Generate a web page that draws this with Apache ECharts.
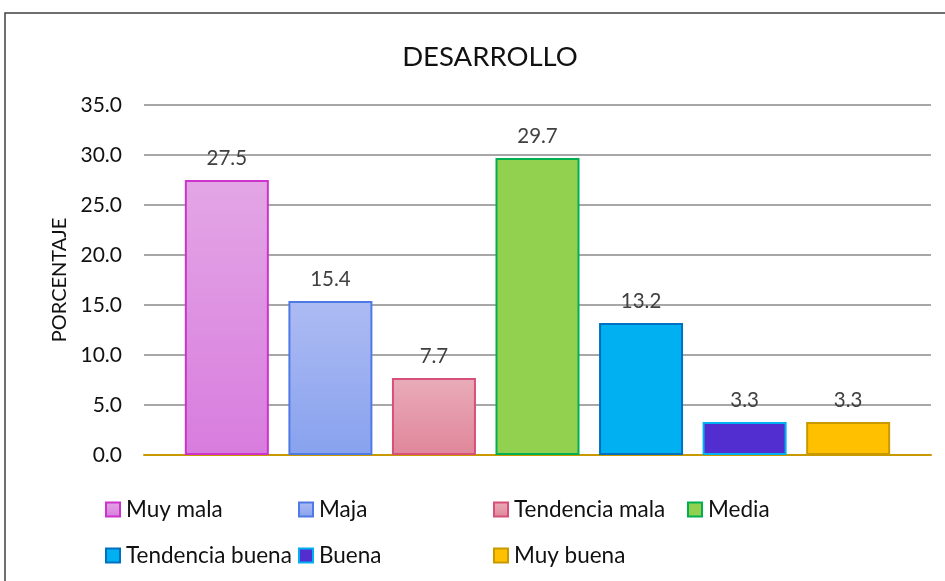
<!DOCTYPE html>
<html>
<head>
<meta charset="utf-8">
<title>DESARROLLO</title>
<script src="https://cdn.jsdelivr.net/npm/echarts@6/dist/echarts.min.js"></script>
<style>
  html, body { margin: 0; padding: 0; background: #fff; }
  #chart { width: 945px; height: 581px; }
</style>
</head>
<body>
<div id="chart"></div>
<script>
// datos del grafico
const categories = ['Muy mala', 'Maja', 'Tendencia mala', 'Media', 'Tendencia buena', 'Buena', 'Muy buena'];
const values = [27.5, 15.4, 7.7, 29.7, 13.2, 3.3, 3.3];
const yMin = 0, yMax = 35, yStep = 5;

// colores: [arriba, abajo, borde]
const fills = [
  ['#E3A6E5', '#D87CDE', '#CC33CC'],
  ['#ADBBF3', '#88A2EE', '#4F7AE6'],
  ['#E9ACB8', '#E0869B', '#D6507A'],
  ['#92D050', '#92D050', '#00B050'],
  ['#00B0F0', '#00B0F0', '#0070C0'],
  ['#522ED0', '#522ED0', '#00B0F0'],
  ['#FFC000', '#FFC000', '#C99A00']
];
// columnas de la leyenda (como en Excel)
const legendCols = [[0, 4], [1, 5], [2, 6], [3]];
const legendX = [105, 298, 493, 687];

const font = 'Lato, "Noto Sans", sans-serif';

const chart = echarts.init(document.getElementById('chart'));

const series = categories.map((name, i) => ({
  name: name,
  type: 'bar',
  barWidth: 84,
  barGap: '-100%',
  data: [[i, values[i]]],
  itemStyle: {
    color: new echarts.graphic.LinearGradient(0, 0, 0, 1, [
      { offset: 0, color: fills[i][0] },
      { offset: 1, color: fills[i][1] }
    ]),
    borderColor: fills[i][2],
    borderWidth: 2
  },
  label: {
    show: true,
    position: 'top',
    distance: 11,
    fontFamily: font,
    fontSize: 20.5,
    color: '#404040',
    formatter: p => p.value[1].toFixed(1)
  }
}));

const legends = legendCols.map((col, k) => ({
  orient: 'vertical',
  left: legendX[k],
  top: 498,
  padding: 0,
  itemGap: 23,
  itemWidth: 14,
  itemHeight: 14,
  icon: 'rect',
  data: col.map(i => categories[i]),
  textStyle: { fontFamily: font, fontSize: 22.5, color: '#111', padding: [0, 0, 0, 1] }
}));

const option = {
  animation: false,
  title: {
    text: 'DESARROLLO',
    left: 485,
    textAlign: 'center',
    top: 38,
    textStyle: { fontFamily: font, fontSize: 27.5, fontWeight: 'normal', color: '#111' }
  },
  graphic: [{
    type: 'rect',
    z: -10,
    shape: { x: 5, y: 13, width: 1000, height: 1000 },
    style: { fill: 'none', stroke: '#404040', lineWidth: 1.5 }
  }],
  legend: legends,
  grid: { left: 144, right: 14, top: 105, bottom: 126 },
  xAxis: {
    type: 'value',
    min: -0.8,
    max: 6.8,
    axisLabel: { show: false },
    axisTick: { show: false },
    splitLine: { show: false },
    axisLine: { show: true, lineStyle: { color: '#C99A00', width: 2 } }
  },
  yAxis: {
    type: 'value',
    min: yMin,
    max: yMax,
    interval: yStep,
    name: 'PORCENTAJE',
    nameLocation: 'middle',
    nameGap: 74,
    nameTextStyle: { fontFamily: font, fontSize: 20, color: '#111' },
    axisLine: { show: false },
    axisTick: { show: false },
    axisLabel: {
      margin: 22,
      fontFamily: font,
      fontSize: 21,
      color: '#111',
      formatter: v => v.toFixed(1)
    },
    splitLine: { lineStyle: { color: '#8a8a8a', width: 1.5 } }
  },
  series: series
};

chart.setOption(option);
</script>
</body>
</html>
